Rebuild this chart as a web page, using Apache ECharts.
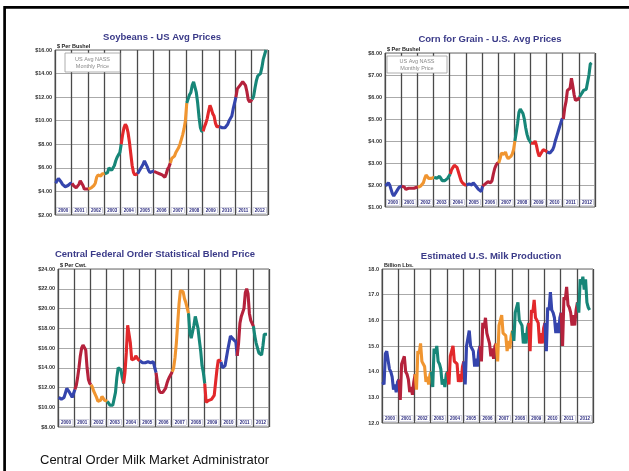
<!DOCTYPE html>
<html>
<head>
<meta charset="utf-8">
<script src="https://cdn.jsdelivr.net/npm/echarts@6/dist/echarts.min.js"></script>
<style>
html,body{margin:0;padding:0;background:#fff;}
#c{width:629px;height:471px;}
</style>
</head>
<body>
<div id="c"></div>
<script>
const years = ['2000','2001','2002','2003','2004','2005','2006','2007','2008','2009','2010','2011','2012'];
const yearColors = ['#3545ad','#b5223c','#f09530','#178678','#e2282b','#3545ad','#b5223c','#f09530','#178678','#e2282b','#3545ad','#b5223c','#178678'];

// monthly values, one array per year (2012 partial)
const soybeans = [
  [4.7,4.9,5.1,5.0,4.8,4.6,4.5,4.4,4.5,4.5,4.6,4.7],
  [4.7,4.5,4.4,4.3,4.4,4.6,4.9,4.8,4.5,4.2,4.2,4.2],
  [4.2,4.2,4.3,4.3,4.5,4.7,5.2,5.4,5.4,5.3,5.5,5.4],
  [5.5,5.6,5.6,6.0,5.9,5.8,5.9,6.2,6.6,6.9,7.1,7.3],
  [8.0,8.8,9.4,9.7,9.5,9.0,8.2,7.2,6.2,5.6,5.4,5.4],
  [5.5,5.6,5.9,6.1,6.3,6.6,6.5,6.1,5.8,5.6,5.6,5.7],
  [5.7,5.6,5.6,5.6,5.5,5.4,5.4,5.3,5.2,5.5,5.9,6.1],
  [6.4,6.8,6.9,7.0,7.3,7.4,7.7,8.0,8.4,8.8,9.3,10.0],
  [11.5,11.6,12.2,12.4,13.0,13.3,13.2,12.4,11.5,10.3,9.4,9.1],
  [9.1,9.5,9.8,10.2,10.8,11.3,11.0,10.6,10.4,9.8,9.5,9.6],
  [9.5,9.5,9.4,9.4,9.4,9.5,9.7,10.0,10.1,10.4,11.0,11.5],
  [12.0,12.7,12.8,13.0,13.1,13.3,13.4,13.0,12.5,11.8,11.6,11.5],
  [11.8,12.1,12.8,13.4,13.8,13.9,14.0,14.5,15.2,15.6,16.0]
];
const corn = [
  [1.95,2.0,2.1,2.0,1.8,1.6,1.5,1.55,1.7,1.8,1.9,1.95],
  [1.95,1.95,1.9,1.8,1.75,1.85,1.9,1.85,1.8,1.85,1.85,1.9],
  [1.9,1.9,1.95,2.0,2.1,2.3,2.45,2.4,2.3,2.3,2.3,2.35],
  [2.35,2.35,2.3,2.35,2.4,2.3,2.2,2.15,2.2,2.2,2.3,2.35],
  [2.5,2.7,2.8,2.9,2.9,2.8,2.6,2.4,2.2,2.1,2.05,2.0],
  [2.0,2.0,2.05,2.0,2.0,2.1,2.1,1.95,1.9,1.8,1.75,1.7],
  [1.95,2.0,2.05,2.1,2.15,2.15,2.1,2.2,2.5,2.75,2.9,3.0],
  [3.0,3.2,3.45,3.5,3.4,3.5,3.3,3.2,3.25,3.3,3.4,3.6],
  [4.0,4.4,4.8,5.3,5.45,5.4,5.25,5.0,4.6,4.3,4.1,4.0],
  [3.9,3.85,3.9,4.0,3.8,3.5,3.3,3.25,3.5,3.6,3.6,3.55],
  [3.5,3.45,3.45,3.5,3.6,3.75,4.0,4.2,4.4,4.6,4.8,5.0],
  [5.0,5.5,5.8,6.3,6.35,6.4,6.85,6.5,6.1,5.85,5.8,5.9],
  [6.0,6.1,6.2,6.3,6.3,6.35,6.4,7.0,7.5,7.55]
];
const blend = [
  [11.0,10.9,10.8,10.9,11.0,11.2,11.9,11.8,11.5,11.6,11.0,10.8],
  [11.8,12.2,13.0,14.0,15.2,16.0,16.3,16.5,15.8,14.0,12.8,12.4],
  [12.3,12.0,11.6,11.4,11.0,10.6,10.5,10.7,11.1,10.9,10.7,10.7],
  [10.6,10.4,10.2,10.1,10.2,10.4,11.5,13.0,14.0,14.2,13.8,13.0],
  [12.4,13.5,15.5,18.3,18.2,16.5,14.8,14.6,14.9,15.2,15.0,14.8],
  [14.7,14.6,14.5,14.3,14.5,14.7,14.6,14.4,14.5,14.7,14.6,14.0],
  [13.5,12.5,11.8,11.5,11.4,11.5,11.6,11.9,12.4,12.8,13.1,13.3],
  [13.6,14.0,15.0,16.5,18.5,20.5,21.8,21.9,21.7,21.0,20.6,20.4],
  [19.5,17.5,17.0,17.2,18.3,19.2,19.3,18.0,16.8,15.7,14.2,13.5],
  [12.4,10.5,10.5,10.7,10.6,10.8,10.7,11.2,12.5,13.8,14.8,14.9],
  [14.6,14.0,13.8,14.2,15.0,15.8,16.5,17.2,17.3,16.9,16.7,16.6],
  [15.2,16.5,18.5,19.2,19.0,20.0,21.6,22.0,21.5,19.5,18.8,18.7],
  [18.2,17.2,16.5,16.0,15.5,15.4,15.3,16.2,17.4,17.5,17.4]
];
const milk = [
  [13.6,13.5,14.7,14.8,14.8,14.1,14.0,13.8,13.3,13.5,13.2,13.6],
  [13.7,12.9,14.3,14.3,14.6,14.0,13.9,13.7,13.2,13.4,13.1,13.6],
  [13.9,13.3,14.8,14.7,15.1,14.4,14.3,14.2,13.6,13.8,13.5,13.9],
  [14.0,13.4,14.9,14.7,15.0,14.4,14.3,14.1,13.5,13.7,13.4,13.9],
  [14.0,13.5,14.6,14.6,15.0,14.4,14.4,14.3,13.6,13.9,13.6,14.2],
  [14.4,13.5,15.0,15.0,15.6,15.0,14.9,14.8,14.2,14.5,14.2,14.8],
  [15.0,14.4,15.9,15.7,16.1,15.5,15.3,15.1,14.6,14.9,14.5,15.0],
  [15.1,14.4,15.8,15.8,16.2,15.5,15.5,15.4,14.8,15.2,14.9,15.4],
  [15.6,15.2,16.3,16.3,16.7,16.0,15.9,15.8,15.1,15.5,15.1,15.7],
  [15.9,14.8,16.4,16.3,16.8,16.1,16.0,15.9,15.1,15.5,15.1,15.7],
  [15.9,14.8,16.5,16.4,17.1,16.4,16.3,16.1,15.5,15.9,15.5,16.1],
  [16.3,15.0,16.9,16.8,17.3,16.6,16.5,16.3,15.8,16.2,15.8,16.4],
  [16.7,16.3,17.6,17.4,17.7,17.2,17.6,16.7,16.5,16.4]
];

const titles = ['Soybeans - US Avg Prices','Corn for Grain - U.S. Avg Prices','Central Federal Order Statistical Blend Price','Estimated U.S. Milk Production'];
const units = ['$ Per Bushel','$ Per Bushel','$ Per Cwt.','Billion Lbs.'];
const yMins = [2, 1, 8, 12];
const yMaxs = [16, 8, 24, 18];
const yIntervals = [2, 1, 2, 1];
const footer = 'Central Order Milk Market Administrator';

const panels = [soybeans, corn, blend, milk];
const boxes = [
  {left:55, top:50, width:213, height:165, tx:162, ty:37},
  {left:385, top:53, width:210, height:154, tx:490, ty:39},
  {left:58, top:269, width:211, height:158, tx:155, ty:254},
  {left:382, top:269, width:211, height:154, tx:491, ty:256}
];

const grid = [], xAxis = [], yAxis = [], series = [], graphic = [];
boxes.forEach((b, i) => {
  grid.push({left:b.left, top:b.top, width:b.width, height:b.height, show:true, borderColor:'#666', borderWidth:1, backgroundColor:'#fff'});
  xAxis.push({type:'value', gridIndex:i, min:0, max:156, show:false});
  xAxis.push({type:'category', gridIndex:i, data:years, boundaryGap:true, position:'bottom',
    axisLine:{show:false}, axisTick:{show:false},
    splitLine:{show:true, interval:0, lineStyle:{color:'#4a4a4a', width:1.3}},
    axisLabel:{inside:true, interval:0, margin:2, fontSize:4.5, fontWeight:'bold', color:'#2c2c80',
      fontFamily:'Liberation Sans', backgroundColor:'#fff', borderColor:'#a8a8c0', borderWidth:0.5,
      width:13, align:'center', padding:[0.5,0,0,0]}
  });
  yAxis.push({type:'value', gridIndex:i, min:yMins[i], max:yMaxs[i], interval:yIntervals[i],
    axisLine:{show:false}, axisTick:{show:false},
    splitLine:{show:true, lineStyle:{color:'#aaa', width:1}},
    axisLabel:{margin:3, fontSize:5.5, fontWeight:'bold', color:'#333', fontFamily:'Liberation Sans',
      formatter: v => i === 3 ? v.toFixed(1) : '$' + v.toFixed(2)}
  });
  const data = panels[i];
  data.forEach((yr, y) => {
    const pts = yr.map((v, m) => [y*12 + m + 0.5, v]);
    if (y + 1 < data.length) pts.push([(y+1)*12 + 0.5, data[y+1][0]]);
    series.push({type:'line', xAxisIndex:2*i, yAxisIndex:i, data:pts, showSymbol:false, z:5,
      lineStyle:{color:yearColors[y], width:3.1}, itemStyle:{color:yearColors[y]}, silent:true});
  });
  graphic.push({type:'text', x:b.tx, y:b.ty, style:{text:titles[i], fill:'#3a3a88', font:'bold 9.5px "Liberation Sans"', align:'center', verticalAlign:'middle'}});
  graphic.push({type:'text', x:b.left + 2, y:b.top - 1, style:{text:units[i], fill:'#222', font:'bold 5.5px "Liberation Sans"', align:'left', verticalAlign:'bottom'}});
});
// NASS boxes
[{x:65, y:53, w:55, h:19}, {x:387, y:56, w:60, h:17}].forEach(r => {
  graphic.push({type:'rect', shape:{x:r.x, y:r.y, width:r.w, height:r.h}, style:{fill:'#fff', stroke:'#999', lineWidth:0.8}, z:10});
  graphic.push({type:'text', x:r.x + r.w/2, y:r.y + r.h/2, z:11, style:{text:'US Avg NASS\nMonthly Price', fill:'#888', font:'5.5px "Liberation Sans"', align:'center', verticalAlign:'middle', lineHeight:7}});
});
graphic.push({type:'rect', shape:{x:4.6, y:7.3, width:700, height:600}, style:{fill:null, stroke:'#000', lineWidth:2.7}, z:20});
graphic.push({type:'text', x:40, y:460, style:{text:footer, fill:'#111', font:'13px "Liberation Sans"', align:'left', verticalAlign:'middle'}});

const chart = echarts.init(document.getElementById('c'), null, {renderer:'canvas'});
chart.setOption({animation:false, backgroundColor:'#fff', grid, xAxis, yAxis, series, graphic});
</script>
</body>
</html>
